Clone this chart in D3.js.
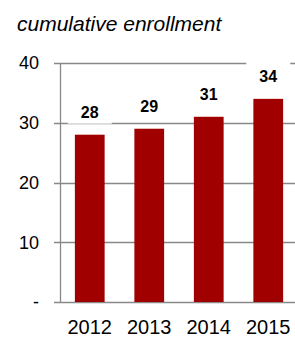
<!DOCTYPE html>
<html>
<head>
<meta charset="utf-8">
<script src="https://cdn.jsdelivr.net/npm/d3@7"></script>
<style>
  html, body { margin: 0; padding: 0; background: #fff; }
  svg { display: block; font-family: "Liberation Sans", Arial, sans-serif; }
</style>
</head>
<body>
<svg id="chart" width="295" height="337"></svg>
<script>
const years = ["2012", "2013", "2014", "2015"];
const enrollment = [28, 29, 31, 34];
const yTicks = [0, 10, 20, 30, 40];
const yTickLabels = ["-", "10", "20", "30", "40"];
const title = "cumulative enrollment";

const svg = d3.select("#chart");
const margin = { top: 63, right: -3, bottom: 35, left: 60 };
const width = 295, height = 337;

const x = d3.scaleBand()
  .domain(years)
  .range([margin.left, width - margin.right])
  .paddingInner(0.5)
  .paddingOuter(0.25);

const y = d3.scaleLinear()
  .domain([0, 40])
  .range([height - margin.bottom, margin.top]);

// title
svg.append("text")
  .attr("x", 17)
  .attr("y", 31)
  .attr("font-size", 21)
  .attr("font-style", "italic")
  .attr("fill", "#000")
  .text(title);

// gridlines + ticks
const grid = svg.append("g").attr("id", "gridGroup");
grid.selectAll("line")
  .data(yTicks)
  .join("line")
  .attr("x1", margin.left - 6)
  .attr("x2", width)
  .attr("y1", d => Math.round(y(d)) + 0.5)
  .attr("y2", d => Math.round(y(d)) + 0.5)
  .attr("stroke", "#888")
  .attr("stroke-width", 1.3);

// y axis line
svg.append("line")
  .attr("x1", margin.left + 0.5)
  .attr("x2", margin.left + 0.5)
  .attr("y1", y(40))
  .attr("y2", y(0))
  .attr("stroke", "#888")
  .attr("stroke-width", 1.3);

// y tick labels
svg.append("g").selectAll("text")
  .data(yTicks)
  .join("text")
  .attr("x", 39)
  .attr("y", d => y(d))
  .attr("dy", "0.35em")
  .attr("text-anchor", "end")
  .attr("font-size", 18)
  .attr("fill", "#000")
  .text((d, i) => yTickLabels[i]);

// value label backgrounds (hide gridlines behind labels)
const labels = svg.append("g").attr("id", "labelGroup");
labels.selectAll("rect")
  .data(enrollment)
  .join("rect")
  .attr("x", (d, i) => x(years[i]) + x.bandwidth() / 2 - 22)
  .attr("y", d => y(d) - 17 - 24)
  .attr("width", 44)
  .attr("height", 30)
  .attr("fill", "#fff");

// bars
svg.append("g").attr("id", "barGroup")
  .selectAll("rect")
  .data(enrollment)
  .join("rect")
  .attr("x", (d, i) => x(years[i]))
  .attr("y", d => y(d))
  .attr("width", x.bandwidth())
  .attr("height", d => y(0) - y(d))
  .attr("fill", "#a00000");

// value labels
labels.selectAll("text")
  .data(enrollment)
  .join("text")
  .attr("x", (d, i) => x(years[i]) + x.bandwidth() / 2)
  .attr("y", d => y(d) - 17)
  .attr("text-anchor", "middle")
  .attr("font-size", 16)
  .attr("font-weight", "bold")
  .attr("fill", "#000")
  .text(d => d);

// x labels
svg.append("g").selectAll("text")
  .data(years)
  .join("text")
  .attr("x", d => x(d) + x.bandwidth() / 2)
  .attr("y", 334)
  .attr("text-anchor", "middle")
  .attr("font-size", 20)
  .attr("fill", "#000")
  .text(d => d);
</script>
</body>
</html>
